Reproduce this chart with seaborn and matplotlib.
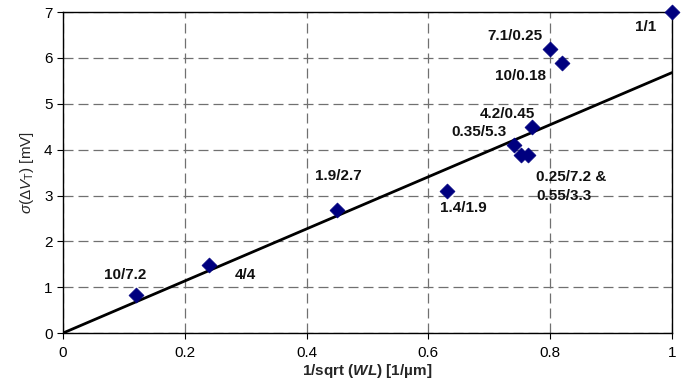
import matplotlib
matplotlib.use("Agg")
import matplotlib.pyplot as plt
import seaborn as sns

# data
inv_sqrt_wl = [0.12, 0.24, 0.45, 0.63, 0.74, 0.752, 0.764, 0.77, 0.80, 0.82, 1.0]
sigma_dvt = [0.83, 1.49, 2.68, 3.10, 4.10, 3.88, 3.88, 4.49, 6.20, 5.90, 7.00]
fit_x = [0.0, 1.0]
fit_y = [0.0, 5.68]

point_labels = ["10/7.2", "4/4", "1.9/2.7", "1.4/1.9", "0.35/5.3", "0.25/7.2 &\n0.55/3.3",
                "4.2/0.45", "7.1/0.25", "10/0.18", "1/1"]
label_x = [0.102, 0.299, 0.452, 0.657, 0.683, 0.777, 0.729, 0.742, 0.752, 0.956]
label_y = [1.26, 1.26, 3.42, 2.73, 4.38, 3.20, 4.78, 6.48, 5.60, 6.67]
label_ha = ["center", "center", "center", "center", "center", "left", "center", "center", "center", "center"]

x_ticks = [0, 0.2, 0.4, 0.6, 0.8, 1]
x_ticklabels = ["0", "0.2", "0.4", "0.6", "0.8", "1"]
y_ticks = [0, 1, 2, 3, 4, 5, 6, 7]

sns.set_style("white")
plt.rcParams["font.family"] = ["Liberation Sans", "DejaVu Sans"]
plt.rcParams["mathtext.fontset"] = "custom"
plt.rcParams["mathtext.rm"] = "Liberation Sans"
plt.rcParams["mathtext.it"] = "Liberation Sans:italic"
plt.rcParams["mathtext.bf"] = "Liberation Sans:bold"
plt.rcParams["mathtext.bfit"] = "Liberation Sans:bold:italic"

fig = plt.figure(figsize = (6.97, 3.9), dpi = 100)
ax = fig.add_axes([0.0904, 0.146, 0.8737, 0.823])

ax.grid(True, color = "#707070", linestyle = (0, (8, 4)), linewidth = 0.9)
ax.set_axisbelow(True)

sns.lineplot(x = fit_x, y = fit_y, color = "black", linewidth = 2.0, ax = ax, zorder = 3)
sns.scatterplot(x = inv_sqrt_wl, y = sigma_dvt, marker = "D", s = 58, color = "#00007f",
                edgecolor = "#00007f", linewidth = 0.5, ax = ax, zorder = 4, clip_on = False)

for txt, lx, ly, ha in zip(point_labels, label_x, label_y, label_ha):
    ax.text(lx, ly, txt, ha = ha, va = "center", fontsize = 11, fontweight = "bold",
            linespacing = 1.45, color = "#111111")

ax.set_xlim(0, 1)
ax.set_ylim(0, 7)
ax.set_xticks(x_ticks)
ax.set_xticklabels(x_ticklabels)
ax.set_yticks(y_ticks)
ax.tick_params(axis = "both", direction = "out", length = 4, width = 0.8, labelsize = 11,
               colors = "black", bottom = True, left = True, top = False, right = False)
ax.tick_params(axis = "x", pad = 5)
for s in ax.spines.values():
    s.set_color("black")
    s.set_linewidth(1.0)

ax.set_xlabel(r"1/sqrt ($\mathbfit{WL}$) [1/µm]", fontsize = 11, fontweight = "bold", labelpad = 2)
ax.set_ylabel(r"$\sigma(\Delta \mathit{V}_\mathrm{T})$ [mV]", fontsize = 11, labelpad = 6)

fig.savefig("out.png", dpi = 100)
